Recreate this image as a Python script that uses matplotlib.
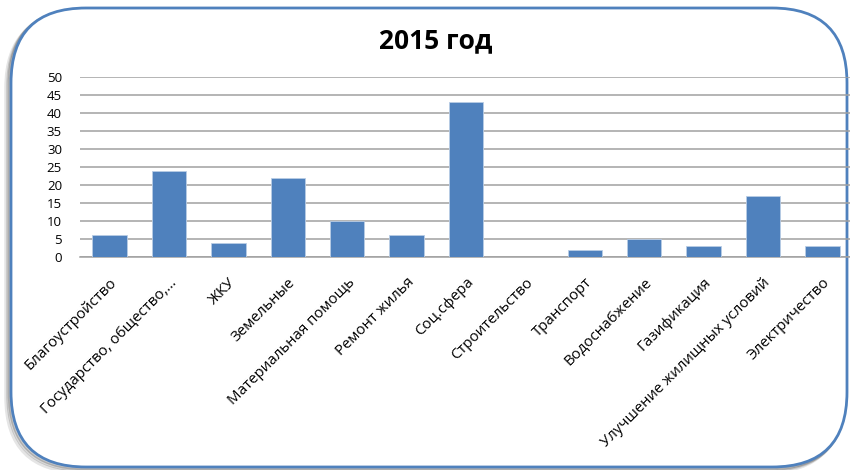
import matplotlib.pyplot as plt
from matplotlib.patches import FancyBboxPatch
from matplotlib.transforms import Affine2D

# data
categories = ["Благоустройство", "Государство, общество,…", "ЖКУ", "Земельные",
              "Материальная помощь", "Ремонт жилья", "Соц.сфера", "Строительство",
              "Транспорт", "Водоснабжение", "Газификация",
              "Улучшение жилищных условий", "Электричество"]
values = [6, 24, 4, 22, 10, 6, 43, 0, 2, 5, 3, 17, 3]
yticks = list(range(0, 51, 5))

plt.rcParams['font.family'] = ['Open Sans', 'DejaVu Sans']

W, H = 850, 470
fig = plt.figure(figsize=(W / 100, H / 100), dpi=100)

# rounded frame with a soft shadow, in pixel units
px = Affine2D().scale(1 / W, 1 / H) + fig.transFigure
for dx, dy, a in [(-5, -5, 0.10), (-3, -3, 0.15), (-1.5, -1.5, 0.2)]:
    fig.add_artist(FancyBboxPatch((11 + dx, 3 + dy), 836, 459,
                                  boxstyle="round,pad=0,rounding_size=75",
                                  transform=px, facecolor="none", zorder=-3,
                                  edgecolor="black", alpha=a, lw=2.5))
fig.add_artist(FancyBboxPatch((11, 3), 836, 459,
                              boxstyle="round,pad=0,rounding_size=75",
                              transform=px, facecolor="white", zorder=-2,
                              edgecolor="#4F81BD", lw=2))

ax = fig.add_axes([80 / W, 1 - 257 / H, 772 / W, 180 / H])
ax.set_zorder(1)
ax.set_facecolor("none")
x = range(len(categories))
ax.bar(x, values, width=0.58, color="#4F81BD", edgecolor="#B9CDE5", lw=0.6, zorder=3)

ax.set_xlim(-0.5, len(categories) - 0.5)
ax.set_ylim(0, 50)
ax.set_yticks(yticks)
ax.grid(axis="y", color="#A0A0A0", lw=1.1, zorder=0)
for s in ["top", "right", "left"]:
    ax.spines[s].set_visible(False)
ax.spines["bottom"].set_color("#A0A0A0")
ax.spines["bottom"].set_linewidth(1.1)
ax.tick_params(axis="y", length=0, labelsize=9.5, pad=13)
ax.tick_params(axis="x", length=0, pad=13)
ax.set_xticks(list(x))
ax.set_xticklabels(categories, rotation=45, ha="right", rotation_mode="anchor",
                   fontsize=10.8)

fig.text(0.512, 0.913, "2015 год", ha="center", va="center",
         fontsize=19, fontweight="bold", zorder=2)

fig.savefig("out.png", dpi=100)
